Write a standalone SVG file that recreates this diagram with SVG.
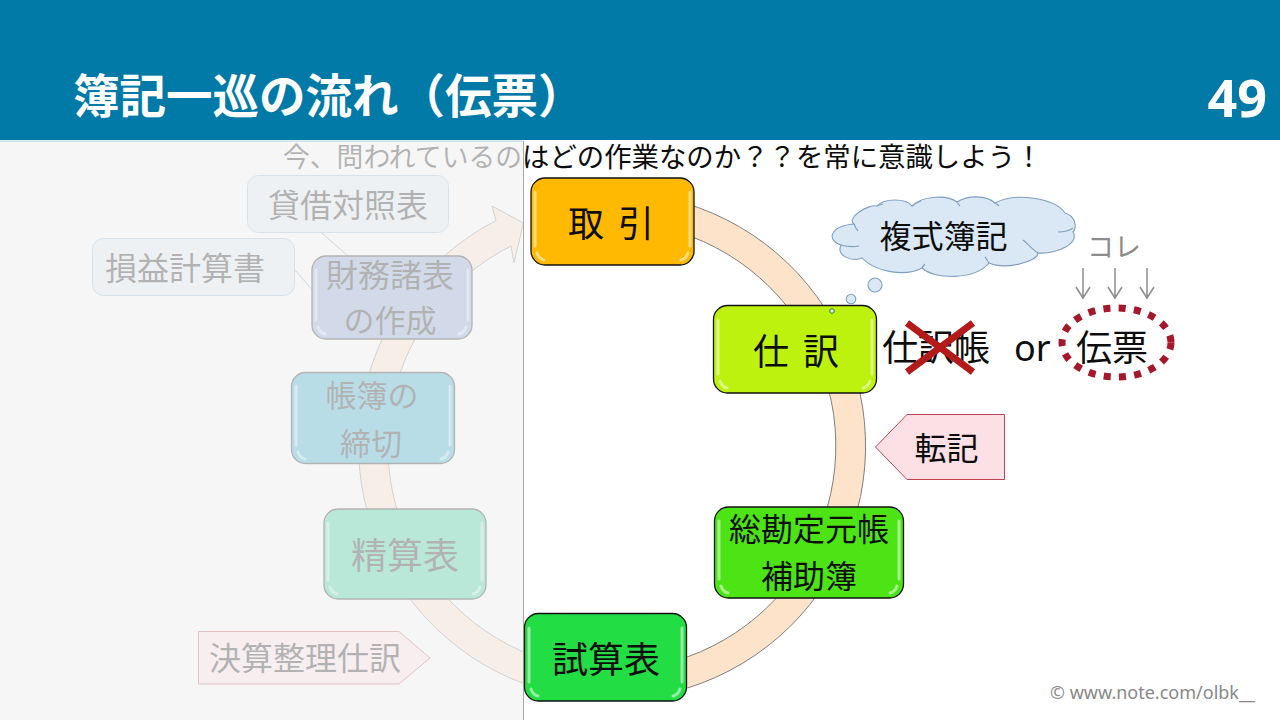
<svg xmlns="http://www.w3.org/2000/svg" width="1280" height="720" viewBox="0 0 1280 720">
<style>
text{font-family:"Noto Sans CJK JP","Noto Sans",sans-serif;fill:#0d0d0d}
.c{text-anchor:middle}
.f36{font-size:36px}.f32{font-size:32px}.f31{font-size:31px}
.box{stroke:#111;stroke-width:1.3}
.gloss{fill:none;stroke:#fff;stroke-opacity:.5;stroke-width:3;stroke-linecap:round}
.call{fill:#e2ecf2;stroke:#8fb4d0;stroke-width:1}
.tag{fill:#fde0e6;stroke:#c2404f;stroke-width:1}
.cloud{fill:#dae8f5;stroke:#7f9fbe;stroke-width:1.1}
.gray{stroke:#8c8c8c;stroke-width:1.5;fill:none}
</style>
<rect width="1280" height="720" fill="#fff"/>
<rect width="1280" height="140" fill="#017aa8"/>
<text id="title" x="73" y="113" font-size="46.500" font-weight="700" style="fill:#fff">簿記一巡の流れ（伝票）</text>
<text id="page" x="1267" y="117" font-size="52" font-weight="700" text-anchor="end" style="fill:#fff;font-family:'Noto Sans',sans-serif">49</text>
<g id="connectors">
<path id="cycle-arrow" d="M640 194A253.5 253.5 0 1 1 496 220.6L492 206L523.4 223L514 263L511 246A224 224 0 1 0 640 223.8Z" fill="#fde3c9" stroke="#7f7f7f" stroke-width="1"/>
<path d="M318.500 230L348 256M295 270L315 293" stroke="#6f93b5" stroke-width="1" fill="none"/>
<path class="gray" d="M1083 268V298M1076 287L1083 298L1090 287M1115 268V298M1108 287L1115 298L1122 287M1147 268V298M1140 287L1147 298L1154 287"/>
</g>
<g id="node-bs"><rect class="call" x="247.500" y="175.500" width="201" height="57" rx="11"/><text class="f32 c" x="348" y="217">貸借対照表</text></g>
<g id="node-pl"><rect class="call" x="92.500" y="238.500" width="202" height="57" rx="11"/><text class="f32 c" x="185" y="280">損益計算書</text></g>
<g id="node-fs"><rect class="box" x="312" y="256" width="160" height="83" rx="14" fill="#7d9acf"/><path class="gloss" d="M316 270V320M468 270V320M318 327Q320 333 325 334M466 327Q464 333 459 334"/><text class="f32 c" x="390" y="287">財務諸表</text><text class="f31 c" x="390" y="332">の作成</text></g>
<g id="node-close"><rect class="box" x="291.500" y="372.500" width="163" height="91" rx="14" fill="#20a4c8"/><path class="gloss" d="M296 386V445M450 386V445M298 452Q300 458 305 459M448 452Q446 458 441 459"/><text class="f31 c" x="372" y="407">帳簿の</text><text class="f31 c" x="371" y="455">締切</text></g>
<g id="node-ws"><rect class="box" x="324" y="509" width="162" height="90" rx="14" fill="#24cc96"/><path class="gloss" d="M328 523V580M482 523V580M330 587Q332 593 337 594M480 587Q478 593 473 594"/><text class="f36 c" x="405" y="569">精算表</text></g>
<g id="node-adjust"><path class="tag" d="M198.500 631.500H399L430 658L399 684H198.500Z"/><text class="f32" x="209" y="670">決算整理仕訳</text></g>
<text id="lead" x="283" y="167" font-size="26.800">今、問われているの<tspan x="522" font-size="27.400">はどの作業なのか？？を常に意識しよう！</tspan></text>
<g id="fade"><rect x="0" y="141" width="523" height="579" fill="#f3f3f3" fill-opacity=".72"/><path d="M0 141H523" stroke="#a9d5dd" stroke-width="1.200"/><path d="M523.500 141V720" stroke="#aaa" stroke-width="1"/></g>
<g id="node-tx"><rect class="box" x="531" y="178" width="163" height="87" rx="14" fill="#ffb900"/><path class="gloss" d="M535 192V246M690 192V246M537 253Q539 259 544 260M688 253Q686 259 681 260"/><text class="f36 c" x="611" y="237" word-spacing="6">取 引</text></g>
<g id="node-journal"><rect class="box" x="713.500" y="305.500" width="163" height="87.500" rx="14" fill="#bdf20e"/><path class="gloss" d="M718 320V374M872 320V374M720 381Q722 387 727 388M870 381Q868 387 863 388"/><text class="f36 c" x="796" y="365" word-spacing="6">仕 訳</text></g>
<g id="node-ledger"><rect class="box" x="714.500" y="507" width="189" height="91" rx="14" fill="#4ce414"/><path class="gloss" d="M719 521V579M899 521V579M721 586Q723 592 728 593M897 586Q895 592 890 593"/><text class="f32 c" x="809" y="541">総勘定元帳</text><text class="f32 c" x="809" y="588">補助簿</text></g>
<g id="node-tb"><rect class="box" x="524.500" y="613.500" width="162" height="87.500" rx="14" fill="#22dd44"/><path class="gloss" d="M529 628V682M682 628V682M531 689Q533 695 538 696M680 689Q678 695 673 696"/><text class="f36 c" x="606" y="673">試算表</text></g>
<g id="node-post"><path class="tag" d="M875.500 447L907 414.500H1004.500V479.500H907Z"/><text class="f32 c" x="946.500" y="460">転記</text></g>
<g id="node-cloud">
<path class="cloud" d="M854 224C846 218 868 204 877 206C884 198 906 198 912 206C923 195 948 195 957 202C968 195 986 195 995 203C1015 192 1055 198 1065 213C1076 216 1077 228 1073 232C1080 243 1058 254 1038 253C1038 262 1005 270 989 263C975 280 935 280 922 268C905 277 875 272 862 258C852 262 836 256 841 245C826 240 830 226 854 224Z"/>
<path d="M841 245C848 247 853 247 859 246M854 224C855 227 856 229 858 231M877 206C879 205 881 204 883 204M912 206C915 203 918 202 921 201M957 202C958 204 959 205 960 206M995 203C997 204 998 205 999 206M1073 228C1069 231 1064 232 1058 232M1038 253C1032 249 1027 243 1023 240M989 263C987 260 986 258 985 257M922 268C923 266 924 265 925 264" fill="none" stroke="#7f9fbe" stroke-width="1.100"/>
<circle class="cloud" cx="875" cy="285" r="7"/><circle class="cloud" cx="851" cy="299" r="4.800"/><circle cx="832" cy="311" r="2.300" fill="#dae8f5" stroke="#3b7f3b" stroke-width="1"/>
<text class="f32 c" x="943.500" y="248">複式簿記</text></g>
<g id="node-book"><text class="f36" x="882" y="361">仕訳帳</text><path d="M907 323L973 372M973 323L907 372" stroke="#b51a1a" stroke-width="7" fill="none"/></g>
<text id="or" x="1014" y="361" font-size="36" style="font-family:'Noto Sans',sans-serif">or</text>
<g id="node-voucher"><text class="f36" x="1076" y="361">伝票</text><ellipse cx="1116.500" cy="342.500" rx="54.500" ry="34.500" fill="none" stroke="#a5182a" stroke-width="7" stroke-dasharray="7 8.300"/></g>
<text id="kore" x="1114" y="257" class="c" font-size="27" style="fill:#8c8c8c">コレ</text>
<text id="credit" x="1050" y="699" font-size="18" style="fill:#888;font-family:'Noto Sans',sans-serif">© www.note.com/olbk__</text>
</svg>
